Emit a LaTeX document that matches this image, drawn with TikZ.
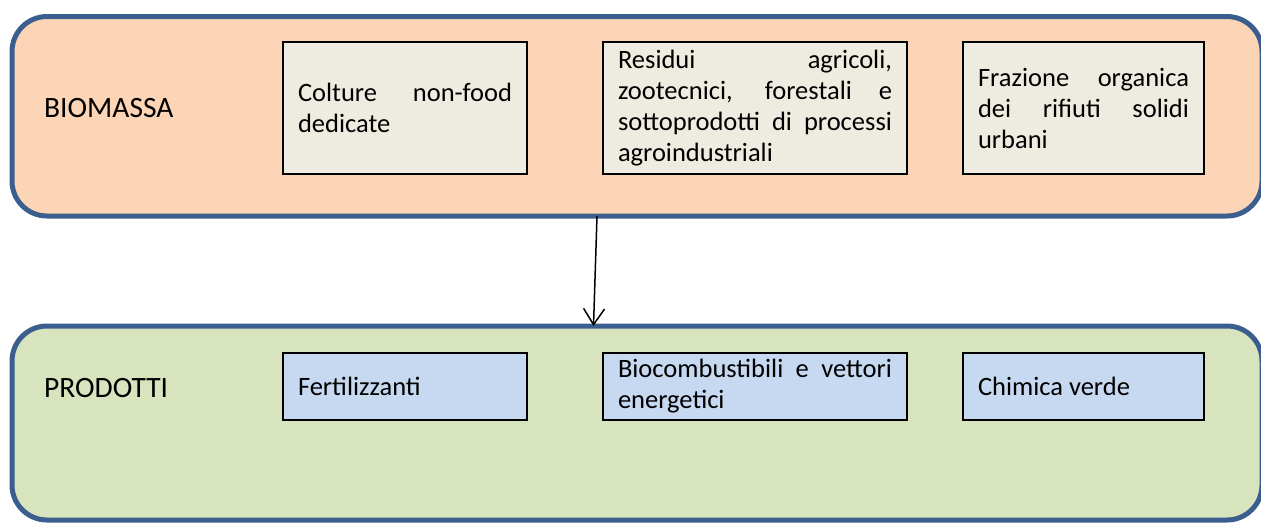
\documentclass[tikz,border=0pt]{standalone}
\usepackage{fontspec}
\setmainfont{Carlito}
\usepackage{xcolor}
\definecolor{frameblue}{RGB}{58, 95, 143}
\definecolor{softpeach}{RGB}{251, 213, 181}
\definecolor{softgreen}{RGB}{215, 228, 189}
\definecolor{softbeige}{RGB}{238, 236, 225}
\definecolor{softblue}{RGB}{198, 217, 241}
\usepackage{tikz}
\usetikzlibrary{
  arrows.meta,
  positioning
}

\begin{document}
\begin{tikzpicture}[x=1pt, y=-1pt,
  panel/.style={draw=frameblue, line width=5pt, rounded corners=35pt, outer sep=0pt},
  source/.style={draw=black, line width=1.5pt, fill=softbeige, minimum height=132pt,
    inner xsep=15pt, align=justify, font=\fontsize{26.5}{31}\selectfont},
  product/.style={draw=black, line width=1.5pt, fill=softblue, minimum height=67pt,
    inner xsep=15pt, align=justify, font=\fontsize{26.5}{31}\selectfont},
  title/.style={anchor=west, inner sep=0pt, font=\fontsize{29.5}{31}\selectfont}]

  \useasboundingbox (0, 0) rectangle (1261, 523);

  % the two large panels
  \node[panel, fill=softpeach, minimum width=1250pt, minimum height=199.5pt] (biomassa) at (637, 116.25) {};
  \node[panel, fill=softgreen, minimum width=1250pt, minimum height=194pt] (prodotti) at (637, 423) {};

  % panel titles
  \node[title] (tbio) at (44, 108) {BIOMASSA};
  \node[title] (tprod) at (44, 388) {PRODOTTI};

  % sources of biomass
  \node[source, text width=214pt] (colture) at (405, 108)
    {Colture non-food\linebreak dedicate};
  \node[source, text width=274pt] (residui) at (755, 108)
    {Residui agricoli,\linebreak zootecnici, forestali e\linebreak sottoprodotti di processi\linebreak agroindustriali};
  \node[source, text width=211pt] (frazione) at (1083.5, 108)
    {Frazione organica\linebreak dei rifiuti solidi\linebreak urbani};

  % products
  \node[product, text width=214pt] (fert) at (405, 386.5) {Fertilizzanti};
  \node[product, text width=274pt] (biocomb) at (755, 386.5)
    {Biocombustibili e vettori\linebreak energetici};
  \node[product, text width=211pt] (chimica) at (1083.5, 386.5) {Chimica verde};

  % from biomass to products
  \draw[line width=1.5pt, -{Straight Barb[length=16pt, width=21pt]}]
    ([xshift=-40pt]biomassa.south) -- ([xshift=-43.5pt]prodotti.north);

\end{tikzpicture}
\end{document}
